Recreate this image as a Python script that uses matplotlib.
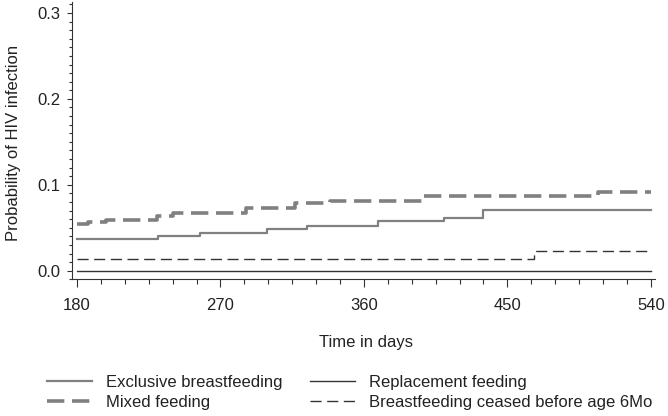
import matplotlib
matplotlib.use("Agg")
import matplotlib.pyplot as plt
from matplotlib.ticker import MultipleLocator

# ---- data ----
excl_t = [180, 231, 257, 299, 324, 369, 410, 435, 540]
excl_p = [0.0366, 0.0404, 0.0435, 0.0482, 0.0526, 0.0582, 0.0610, 0.0703, 0.0703]

mixed_t = [180, 187, 198, 230, 240, 286, 317, 339, 397, 507, 540]
mixed_p = [0.0540, 0.0565, 0.0590, 0.0637, 0.0675, 0.0733, 0.0785, 0.0815, 0.0870, 0.0913, 0.0913]

repl_t = [180, 540]
repl_p = [0.0, 0.0]

ceased_t = [180, 467, 540]
ceased_p = [0.0136, 0.0233, 0.0233]

labels = ["Exclusive breastfeeding", "Mixed feeding",
          "Replacement feeding", "Breastfeeding ceased before age 6Mo"]
xticks = [180, 270, 360, 450, 540]
yticks = [0.0, 0.1, 0.2, 0.3]

plt.rcParams['font.family'] = ['Liberation Sans', 'DejaVu Sans']
plt.rcParams['lines.scale_dashes'] = False

GRAY = '#808080'
DARK = '#333333'
TXT = '#222222'
FS = 12

W, H = 668, 416
fig = plt.figure(figsize=(W / 100, H / 100), dpi=100)
ax = fig.add_axes([72.3 / W, 1 - 279.3 / H, (655 - 72.3) / W, (279.3 - 2) / H])

l1, = ax.step(excl_t, excl_p, where='post', color=GRAY, lw=1.6)
l2, = ax.step(mixed_t, mixed_p, where='post', color=GRAY, lw=2.6, dashes=(12.5, 5.5))
l3, = ax.step(repl_t, repl_p, where='post', color=DARK, lw=1.0)
l4, = ax.step(ceased_t, ceased_p, where='post', color=DARK, lw=1.0, dashes=(8, 4))

ax.set_xlim(177.05, 542.6)
ax.set_ylim(-0.0100, 0.3128)

ax.set_xticks(xticks)
ax.set_xticklabels([str(v) for v in xticks])
ax.set_yticks(yticks)
ax.set_yticklabels([f"{v:.1f}" for v in yticks])
ax.xaxis.set_minor_locator(MultipleLocator(15))
ax.yaxis.set_minor_locator(MultipleLocator(0.01))

for s in ['top', 'right']:
    ax.spines[s].set_visible(False)
for s in ['left', 'bottom']:
    ax.spines[s].set_color(DARK)
    ax.spines[s].set_linewidth(0.8)

ax.tick_params(axis='x', which='major', length=5.8, width=0.8, color=DARK,
               labelsize=FS, labelcolor=TXT, pad=8.0)
ax.tick_params(axis='x', which='minor', length=3.6, width=0.8, color=DARK)
ax.tick_params(axis='y', which='major', length=3.6, width=0.8, color=DARK,
               labelsize=FS, labelcolor=TXT, pad=4.8)
ax.tick_params(axis='y', which='minor', length=2.2, width=0.8, color=DARK)

ax.set_xlabel("Time in days", fontsize=FS, color=TXT)
ax.set_ylabel("Probability of HIV infection", fontsize=FS, color=TXT)
ax.xaxis.set_label_coords((366 - 72.3) / (655 - 72.3), (279.3 - 342) / (279.3 - 2))
ax.xaxis.label.set_verticalalignment('center')
ax.yaxis.set_label_coords((14 - 72.3) / (655 - 72.3), (279.3 - 143) / (279.3 - 2))
ax.yaxis.label.set_verticalalignment('center')

fig.legend([l1, l2, l3, l4], labels, ncol=2, loc='center left',
           bbox_to_anchor=(46.7 / W, 1 - 392.7 / H), frameon=False,
           fontsize=FS, labelcolor=TXT, borderpad=0, borderaxespad=0,
           handlelength=2.7, handletextpad=0.85, columnspacing=1.65,
           labelspacing=0.3)

fig.savefig("out.png", dpi=100)
